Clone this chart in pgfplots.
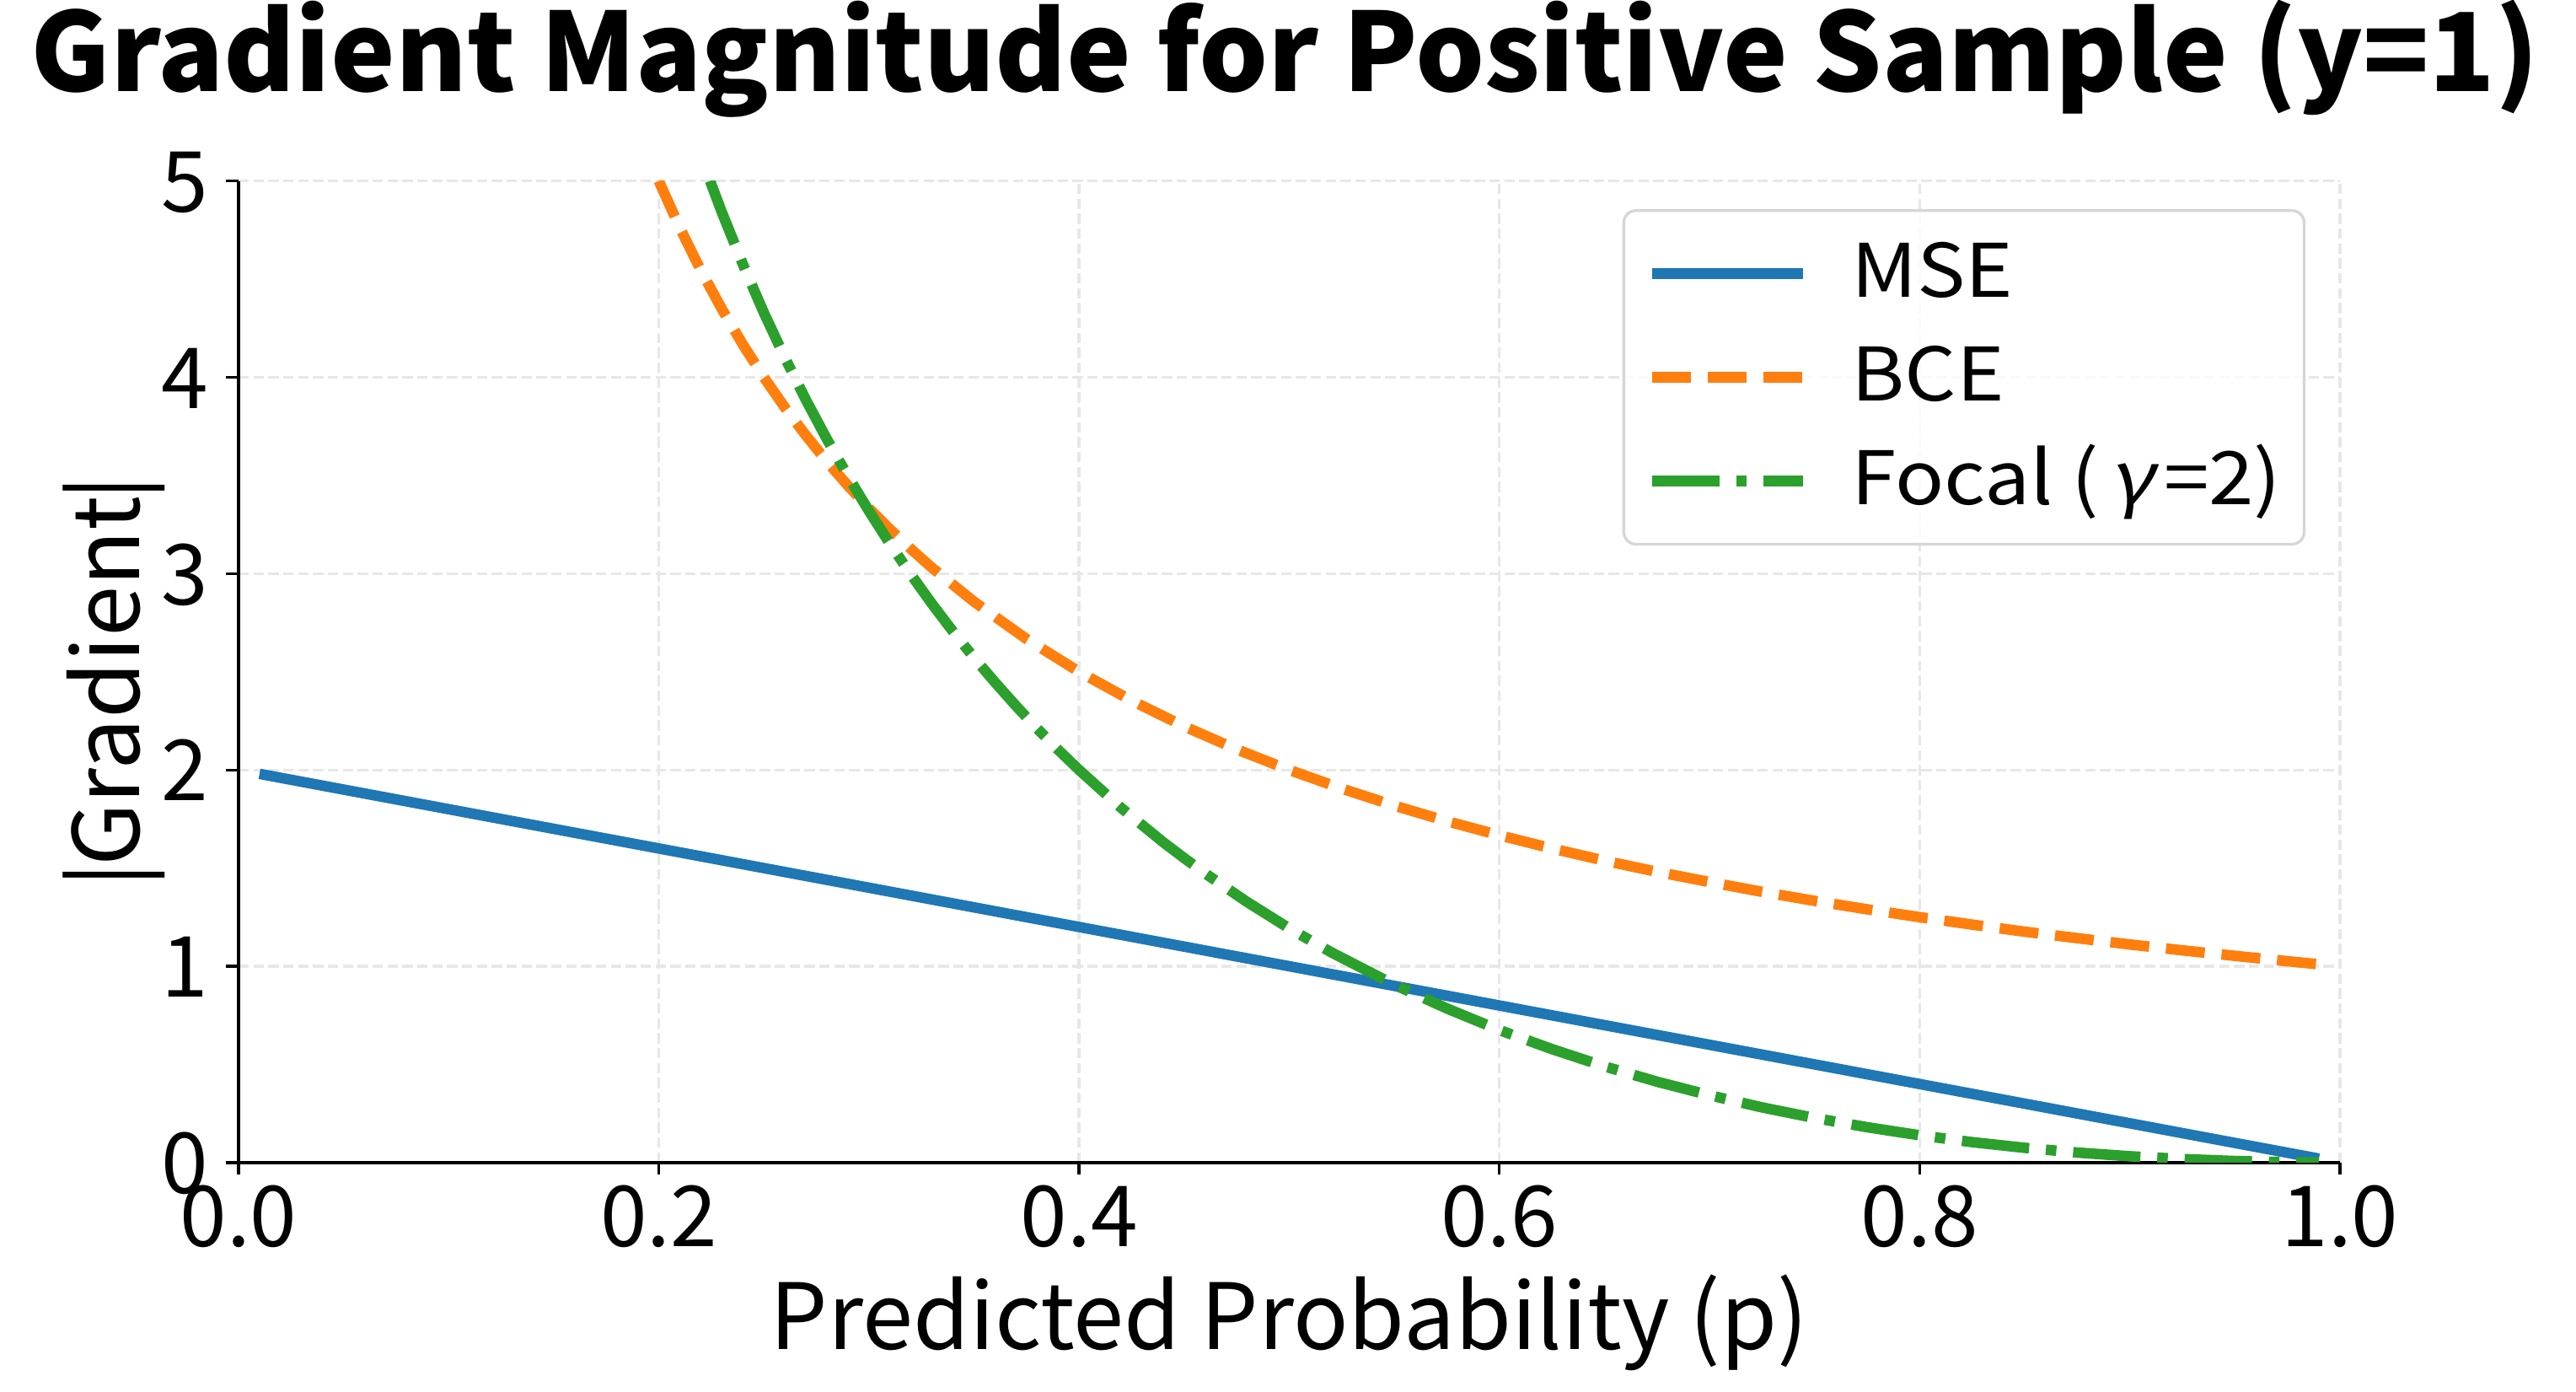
\documentclass[border=0pt]{standalone}
\usepackage{fontspec}
\setmainfont{Noto Sans CJK JP}
\newfontfamily\legfont{Noto Sans CJK JP}[FakeStretch=1.1]
\newfontfamily\slantcjk{Noto Sans CJK JP}[FakeSlant=0.2,FakeStretch=1.1]
\usepackage{pgfplots}
\pgfplotsset{compat=1.18}
\definecolor{tabblue}{HTML}{1F77B4}
\definecolor{taborange}{HTML}{FF7F0E}
\definecolor{tabgreen}{HTML}{2CA02C}
\definecolor{gridgray}{HTML}{E7E7E7}
\definecolor{leggray}{HTML}{D6D6D6}
\begin{document}
\begin{tikzpicture}
\begin{axis}[
  scale only axis,
  width=598.3pt, height=279.4pt,
  xmin=0, xmax=1, ymin=0, ymax=5,
  axis x line*=bottom, axis y line*=left,
  axis line style={line width=0.8pt, -},
  xtick={0,0.2,0.4,0.6,0.8,1.0},
  ytick={0,1,2,3,4,5},
  xticklabels={0.0,0.2,0.4,0.6,0.8,1.0},
  /pgf/number format/assume math mode=true,
  tick align=outside,
  major tick length=3.5pt,
  tick style={line width=0.8pt, black},
  ticklabel style={font=\fontsize{24}{28}\selectfont},
  xticklabel style={inner sep=0pt, text height=17.6pt, text depth=0pt, anchor=north, yshift=-2.5pt},
  yticklabel style={inner sep=0pt, text height=17.6pt, text depth=0pt, anchor=east, xshift=-5pt},
  grid=major,
  major grid style={gridgray, line width=0.8pt, dash pattern=on 2.96pt off 1.28pt},
  title={\textbf{Gradient Magnitude for Positive Sample (y=1)}},
  title style={font=\fontsize{31}{36}\selectfont, at={(axis description cs:0.498,1.0696)}, anchor=base, inner sep=0pt},
  xlabel={Predicted Probability (p)},
  xlabel style={font=\fontsize{26}{30}\selectfont, at={(axis description cs:0.5,-0.19)}, anchor=base, inner sep=0pt},
  ylabel={|\kern-1pt Gradient\kern-1pt|},
  ylabel style={font=\fontsize{26}{30}\selectfont, at={(axis description cs:-0.047,0.49)}, anchor=base, inner sep=0pt},
  legend style={
    at={([xshift=-9.8pt,yshift=-8pt]rel axis cs:1,1)}, anchor=north east,
    draw=leggray, line width=0.8pt, rounded corners=3.5pt,
    fill=white, fill opacity=0.8, text opacity=1,
    font=\fontsize{21}{25}\selectfont\legfont,
    inner xsep=6.5pt, inner ysep=9pt,
    row sep=11.5pt, column sep=12.3pt,
    nodes={inner sep=0pt, text height=15.6pt, text depth=2.4pt},
  },
  legend cell align=left,
  legend image code/.code={\draw[#1] (0pt,0pt) -- (43pt,0pt);},
  clip=true,
]
\addplot[tabblue, line width=3pt] coordinates {(0.01,1.98) (0.99,0.02)};
\addlegendentry{MSE}
\addplot[taborange, line width=3pt, dash pattern=on 11.1pt off 4.8pt] coordinates {
(0.20,5.000) (0.21,4.762) (0.22,4.545) (0.23,4.348) (0.24,4.167) (0.25,4.000)
(0.26,3.846) (0.27,3.704) (0.28,3.571) (0.29,3.448) (0.30,3.333) (0.31,3.226)
(0.32,3.125) (0.33,3.030) (0.35,2.857) (0.375,2.667) (0.40,2.500) (0.425,2.353)
(0.45,2.222) (0.475,2.105) (0.50,2.000) (0.525,1.905) (0.55,1.818) (0.575,1.739)
(0.60,1.667) (0.625,1.600) (0.65,1.538) (0.675,1.481) (0.70,1.429) (0.725,1.379)
(0.75,1.333) (0.775,1.290) (0.80,1.250) (0.825,1.212) (0.85,1.176) (0.875,1.143)
(0.90,1.111) (0.925,1.081) (0.95,1.053) (0.97,1.031) (0.99,1.010)};
\addlegendentry{BCE}
\addplot[tabgreen, line width=3pt, dash pattern=on 19.2pt off 4.8pt on 3pt off 4.8pt] coordinates {
(0.2244,5.000) (0.23,4.841) (0.24,4.576) (0.25,4.329) (0.26,4.100) (0.27,3.885)
(0.28,3.685) (0.29,3.496) (0.30,3.319) (0.31,3.152) (0.32,2.995) (0.33,2.846)
(0.34,2.705) (0.35,2.572) (0.36,2.446) (0.37,2.326) (0.38,2.211) (0.39,2.103)
(0.40,2.000) (0.42,1.807) (0.44,1.632) (0.45,1.551) (0.46,1.473) (0.48,1.327)
(0.50,1.193) (0.52,1.071) (0.55,0.906) (0.575,0.785) (0.60,0.675) (0.625,0.578)
(0.65,0.490) (0.675,0.412) (0.70,0.343) (0.725,0.281) (0.75,0.227) (0.775,0.180)
(0.80,0.139) (0.825,0.104) (0.85,0.075) (0.875,0.051) (0.90,0.032) (0.925,0.018)
(0.95,0.0078) (0.97,0.0027) (0.99,0.0003)};
\addlegendentry{Focal (\hspace{3pt}{\slantcjk γ}\hspace{3pt}=2)}
\end{axis}
\path (current axis.south west) ++(-67.9pt,-65.3pt) coordinate (bbA);
\path (current axis.north east) ++(67.2pt,49.9pt) coordinate (bbB);
\path[use as bounding box] (bbA) rectangle (bbB);
\end{tikzpicture}
\end{document}
